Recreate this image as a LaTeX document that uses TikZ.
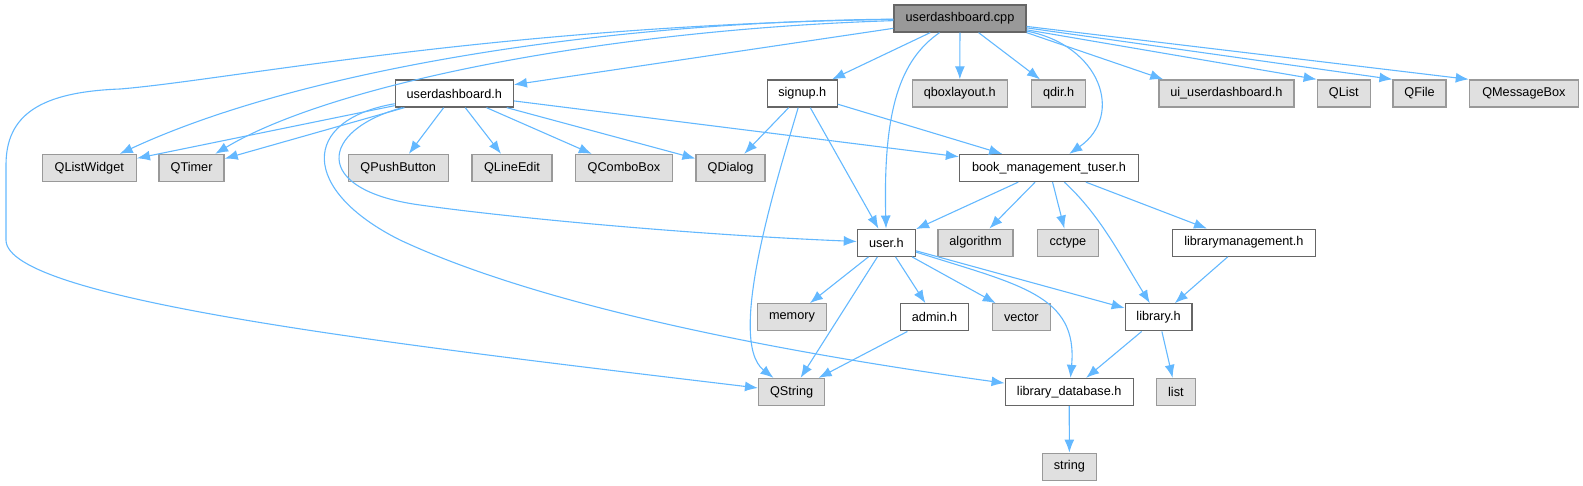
\documentclass[tikz,border=0pt]{standalone}
\usepackage{fontspec}
\setmainfont{Liberation Sans}
\usepackage{xcolor}
\usepackage{tikz}
\usetikzlibrary{arrows.meta}

\definecolor{rootfill}{HTML}{999999}
\definecolor{boxline}{HTML}{666666}
\definecolor{extfill}{HTML}{E0E0E0}
\definecolor{extline}{HTML}{999999}
\definecolor{linkblue}{HTML}{63B8FF}

\begin{document}
\begin{tikzpicture}[
    x=1pt, y=-1pt,
    every node/.style={draw, rectangle, minimum height=27pt, inner sep=0pt, line width=1.3pt,
        font=\fontsize{12.7}{14}\selectfont},
    root/.style={fill=rootfill, draw=boxline},
    file/.style={fill=white, draw=boxline},
    sys/.style={fill=extfill, draw=extline},
    dep/.style={draw=linkblue, line width=1.1pt, -{Latex[length=13pt,width=10pt]}}
]
\useasboundingbox (0,0) rectangle (1583,485);

\node[root, minimum width=132pt] (cpp) at (960,18.5) {userdashboard.cpp};

\node[file, minimum width=118pt] (udh) at (454.3,93.5) {userdashboard.h};
\node[file, minimum width=70pt] (signup) at (802.3,93.5) {signup.h};
\node[sys, minimum width=95pt] (qbox) at (959.8,93.5) {qboxlayout.h};
\node[sys, minimum width=54pt] (qdir) at (1058.6,93.5) {qdir.h};
\node[sys, minimum width=135pt] (ui) at (1226.4,93.5) {ui\_userdashboard.h};
\node[sys, minimum width=53pt] (qlist) at (1343.8,93.5) {QList};
\node[sys, minimum width=53pt] (qfile) at (1419.6,93.5) {QFile};
\node[sys, minimum width=109pt] (qmsg) at (1523.9,93.5) {QMessageBox};

\node[sys, minimum width=94pt] (qlw) at (89.3,168) {QListWidget};
\node[sys, minimum width=65pt] (qtimer) at (191.6,168) {QTimer};
\node[sys, minimum width=100pt] (qpush) at (398.2,168) {QPushButton};
\node[sys, minimum width=80pt] (qline) at (512,168) {QLineEdit};
\node[sys, minimum width=97pt] (qcombo) at (624,168) {QComboBox};
\node[sys, minimum width=69pt] (qdialog) at (730.6,168) {QDialog};
\node[file, minimum width=179pt] (bmt) at (1049,168) {book\_management\_tuser.h};

\node[file, minimum width=58pt] (user) at (886.4,242.7) {user.h};
\node[sys, minimum width=75pt] (algo) at (975.5,242.7) {algorithm};
\node[sys, minimum width=61pt] (cctype) at (1067.9,242.7) {cctype};
\node[file, minimum width=143pt] (libmgmt) at (1243.9,242.7) {librarymanagement.h};

\node[sys, minimum width=69pt] (memory) at (792,317.3) {memory};
\node[file, minimum width=67.5pt] (admin) at (934.5,317.3) {admin.h};
\node[sys, minimum width=58pt] (vector) at (1021.3,317.3) {vector};
\node[file, minimum width=66.6pt] (library) at (1158.6,317.3) {library.h};

\node[sys, minimum width=66pt] (qstring) at (791.6,392) {QString};
\node[file, minimum width=128pt] (libdb) at (1069.2,392) {library\_database.h};
\node[sys, minimum width=38.7pt] (list) at (1175.9,392) {list};

\node[sys, minimum width=54pt] (string) at (1069.4,466.7) {string};

\foreach \a/\b in {cpp/udh, cpp/signup, cpp/qbox, cpp/qdir,
    udh/qlw, udh/qtimer, udh/qpush, udh/qline, udh/qcombo, udh/qdialog, udh/bmt,
    signup/qdialog, signup/user, signup/bmt,
    bmt/user, bmt/algo, bmt/cctype, bmt/libmgmt, libmgmt/library,
    user/memory, user/qstring, user/admin, user/vector, user/library,
    admin/qstring, library/libdb, library/list, libdb/string}
  \draw[dep] (\a) -- (\b);

\draw[dep] (cpp.south east) -- ([xshift=5pt]ui.north west);
\draw[dep] (cpp) -- (qlist.north west);
\draw[dep] (cpp) -- (qfile.north west);
\draw[dep] (cpp) -- (qmsg.north west);

\draw[dep] (cpp) .. controls (600,22) and (300,70) .. (qlw);
\draw[dep] (cpp) .. controls (600,30) and (330,85) .. (qtimer);
\draw[dep] (cpp) .. controls (500,25) and (230,80) .. (120,89)
    .. controls (40,92) and (6,115) .. (6,165) -- (6,240)
    .. controls (6,300) and (400,345) .. (qstring);
\draw[dep] (cpp) .. controls (900,60) and (883,110) .. (user);
\draw[dep] (cpp) .. controls (1100,45) and (1125,115) .. (bmt);

\draw[dep] (udh) .. controls (320,130) and (310,190) .. (420,205)
    .. controls (520,219) and (700,235) .. (user);
\draw[dep] (udh) .. controls (300,120) and (300,190) .. (400,240)
    .. controls (550,310) and (800,355) .. (libdb);
\draw[dep] (signup) .. controls (780,170) and (725,340) .. (qstring);
\draw[dep] (bmt) .. controls (1100,215) and (1120,255) .. (library);
\draw[dep] (user) .. controls (1020,285) and (1078,295) .. (libdb);
\end{tikzpicture}
\end{document}
